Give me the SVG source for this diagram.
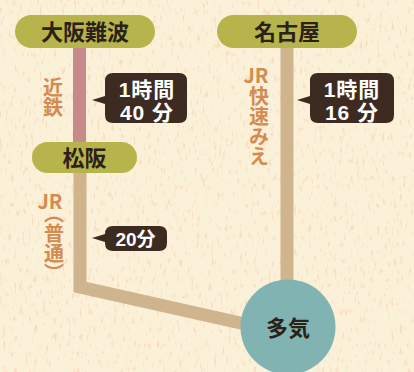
<svg xmlns="http://www.w3.org/2000/svg" width="414" height="372" viewBox="0 0 414 372">
<defs>
<style>
.bg{fill:#fbf0d8}
.pill{fill:#b6b44a}
.pt{font-family:"Noto Sans CJK JP","Noto Sans",sans-serif;font-weight:bold;font-size:22px;fill:#2b2118;text-anchor:middle}
.call{fill:#3d2b22}
.ct{font-family:"Liberation Sans","Noto Sans CJK JP",sans-serif;font-weight:bold;font-size:21px;letter-spacing:1px;fill:#ffffff;text-anchor:middle}
.lbl{font-family:"Noto Sans CJK JP","Liberation Sans",sans-serif;font-weight:bold;font-size:20px;fill:#d38b4f;text-anchor:middle}
.vl{font-family:"Noto Sans CJK JP","Liberation Sans",sans-serif;font-weight:bold;font-size:20px;fill:#d38b4f;writing-mode:vertical-rl;text-anchor:start}
.line{fill:none;stroke-width:13}
</style>
<filter id="tex" x="0" y="0" width="100%" height="100%">
<feTurbulence type="fractalNoise" baseFrequency="0.35 0.12" numOctaves="2" seed="3" result="n"/>
<feColorMatrix in="n" type="matrix" values="0 0 0 0 0.9  0 0 0 0 0.55  0 0 0 0 0.35  0 0 0 6 -3.7" result="s"/>
<feComposite in="s" in2="SourceGraphic" operator="in"/>
</filter>
</defs>
<rect class="bg" x="0" y="0" width="414" height="372"/>
<rect x="0" y="0" width="414" height="372" fill="#fbf0d8" filter="url(#tex)" opacity="0.45"/>
<g id="connectors">
<line class="line" stroke="#c68a8c" x1="79.5" y1="46" x2="79.5" y2="144"/>
<polyline class="line" stroke="#cfb48e" points="80,172 80,287 245,324" stroke-linejoin="miter"/>
<line class="line" stroke="#cfb48e" x1="287" y1="46" x2="287" y2="284"/>
</g>
<g id="node-osaka-namba">
<rect class="pill" x="15" y="15" width="140" height="33" rx="16.5"/>
<text class="pt" x="85" y="40">大阪難波</text>
</g>
<g id="node-matsusaka">
<rect class="pill" x="32" y="142" width="105" height="31" rx="15.5"/>
<text class="pt" x="84.5" y="165.5">松阪</text>
</g>
<g id="node-nagoya">
<rect class="pill" x="217" y="15" width="140" height="33" rx="16.5"/>
<text class="pt" x="287" y="40">名古屋</text>
</g>
<g id="node-taki">
<circle cx="288" cy="327" r="47.5" fill="#80b3b2"/>
<text class="pt" x="288" y="335.5">多気</text>
</g>
<g id="label-kintetsu">
<text class="vl" x="53" y="77">近鉄</text>
</g>
<g id="label-jr-kaisoku-mie">
<text class="lbl" x="256" y="83" font-family="Liberation Sans,sans-serif">JR</text>
<text class="vl" x="259" y="86">快速みえ</text>
</g>
<g id="label-jr-futsu">
<text class="lbl" x="50" y="209" font-family="Liberation Sans,sans-serif">JR</text>
<text class="vl" x="54" y="203">（普通）</text>
</g>
<g id="callout-1h40">
<path class="call" d="M113,73 H179 Q187,73 187,81 V115 Q187,123 179,123 H113 Q105,123 105,115 V104 L92,100 L105,96 V81 Q105,73 113,73 Z"/>
<text class="ct" x="147" y="97">1時間</text>
<text class="ct" x="147" y="119.5">40 分</text>
</g>
<g id="callout-1h16">
<path class="call" d="M318,73 H386 Q394,73 394,81 V115 Q394,123 386,123 H318 Q310,123 310,115 V104 L297,100 L310,96 V81 Q310,73 318,73 Z"/>
<text class="ct" x="352" y="97">1時間</text>
<text class="ct" x="352" y="119.5">16 分</text>
</g>
<g id="callout-20">
<path class="call" d="M113,226 H159 Q167,226 167,234 V243 Q167,251 159,251 H113 Q105,251 105,243 V242 L92,238 L105,234 Q105,226 113,226 Z"/>
<text class="ct" x="135.5" y="245.5" style="font-size:19px;letter-spacing:0">20分</text>
</g>
</svg>
